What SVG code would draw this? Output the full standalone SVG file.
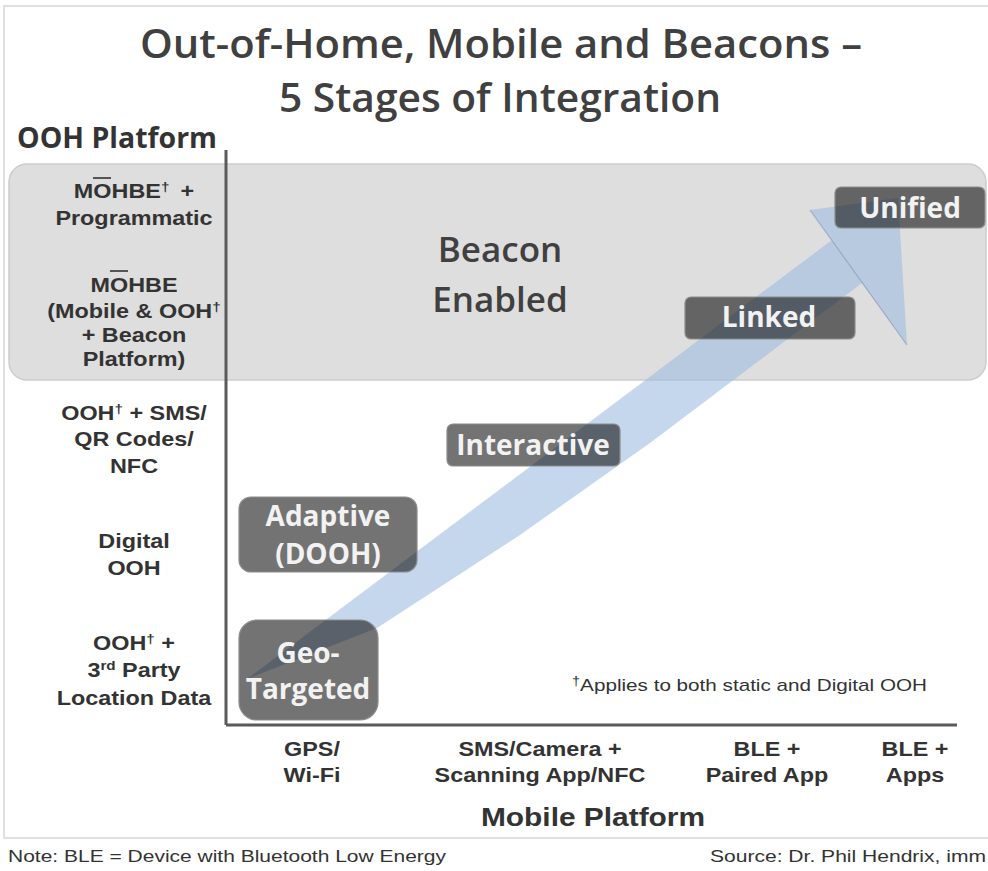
<svg xmlns="http://www.w3.org/2000/svg" width="988" height="871" viewBox="0 0 988 871">
<defs>
<style>
.title{font-family:"Open Sans","Liberation Sans",sans-serif;font-weight:600;fill:#404040;}
.lbl{font-family:"Liberation Sans",Arial,sans-serif;font-weight:bold;font-size:20px;fill:#333;text-anchor:middle;}
.box{fill:#000;fill-opacity:0.55;stroke:#8c8c8c;stroke-width:1.2;}
.bt{font-family:"Open Sans","Liberation Sans",sans-serif;font-weight:700;font-size:28px;fill:#f2f2f2;text-anchor:middle;}
.small{font-family:"Liberation Sans",Arial,sans-serif;font-size:17px;fill:#333;}
.axis{stroke:#5a5a5a;stroke-width:3;fill:none;}
</style>
</defs>
<rect width="988" height="871" fill="#fff"/>
<rect x="4" y="6" width="1000" height="832" fill="#fff" stroke="#e0e0e0" stroke-width="2"/>

<g id="titles">
<text class="title" x="140" y="58" font-size="40" textLength="722" lengthAdjust="spacingAndGlyphs">Out-of-Home, Mobile and Beacons –</text>
<text class="title" x="279" y="112" font-size="40" textLength="442" lengthAdjust="spacingAndGlyphs">5 Stages of Integration</text>
<text class="title" x="17" y="148" font-size="29" textLength="200" lengthAdjust="spacingAndGlyphs" style="fill:#333;font-weight:700">OOH Platform</text>
</g>

<rect id="beacon-band" x="9" y="164" width="977" height="216" rx="18" fill="#dedede" stroke="#cdcdcd" stroke-width="1.5"/>

<g id="axes">
<line class="axis" x1="226" y1="150" x2="226" y2="725"/>
<line class="axis" x1="226" y1="725" x2="957" y2="725"/>
</g>

<g id="connectors">
<polygon points="247,679 832,240 810,210 898,198 907,345 862,283 760,360 650,443 520,535 377,628" fill="#9fbde0" fill-opacity="0.6"/>
<line x1="810" y1="210" x2="907" y2="345" stroke="#8da4bd" stroke-width="1.2" stroke-opacity="0.8"/>
</g>

<g id="beacon-enabled">
<text class="title" x="500" y="262" font-size="35" text-anchor="middle">Beacon</text>
<text class="title" x="500" y="312" font-size="35" text-anchor="middle">Enabled</text>
</g>

<g id="node-geo">
<rect class="box" x="239" y="620" width="139" height="100" rx="18"/>
<text class="bt" x="308" y="663">Geo-</text>
<text class="bt" x="308" y="699">Targeted</text>
</g>
<g id="node-adaptive">
<rect class="box" x="239" y="497" width="178" height="75" rx="12"/>
<text class="bt" x="328" y="526">Adaptive</text>
<text class="bt" x="328" y="564">(DOOH)</text>
</g>
<g id="node-interactive">
<rect class="box" x="447" y="424" width="173" height="42" rx="6"/>
<text class="bt" x="533" y="455">Interactive</text>
</g>
<g id="node-linked">
<rect class="box" x="685" y="297" width="170" height="42" rx="6"/>
<text class="bt" x="769" y="327">Linked</text>
</g>
<g id="node-unified">
<rect class="box" x="835" y="187" width="150" height="41" rx="6"/>
<text class="bt" x="910" y="218">Unified</text>
</g>

<g id="ooh-labels" transform="translate(134,0) scale(1.17,1)">
<text class="lbl" x="0" y="198">MOHBE<tspan font-size="13" dy="-7">†</tspan><tspan dy="7" dx="4"> +</tspan></text>
<text class="lbl" x="0" y="225">Programmatic</text>
<text class="lbl" x="0" y="292">MOHBE</text>
<text class="lbl" x="0" y="318">(Mobile &amp; OOH<tspan font-size="13" dy="-7">†</tspan></text>
<text class="lbl" x="0" y="342">+ Beacon</text>
<text class="lbl" x="0" y="366">Platform)</text>
<text class="lbl" x="0" y="420">OOH<tspan font-size="13" dy="-7">†</tspan><tspan dy="7"> + SMS/</tspan></text>
<text class="lbl" x="0" y="446">QR Codes/</text>
<text class="lbl" x="0" y="473">NFC</text>
<text class="lbl" x="0" y="548">Digital</text>
<text class="lbl" x="0" y="575">OOH</text>
<text class="lbl" x="0" y="650">OOH<tspan font-size="13" dy="-7">†</tspan><tspan dy="7"> +</tspan></text>
<text class="lbl" x="0" y="677">3<tspan font-size="13" dy="-7">rd</tspan><tspan dy="7"> Party</tspan></text>
<text class="lbl" x="0" y="705">Location Data</text>
</g>
<g id="overlines" stroke="#333" stroke-width="1.6">
<line x1="93" y1="178" x2="111" y2="178"/>
<line x1="110" y1="271" x2="128" y2="271"/>
</g>

<g id="mobile-labels">
<g transform="translate(312,0) scale(1.17,1)"><text class="lbl" x="0" y="756">GPS/</text><text class="lbl" x="0" y="782">Wi-Fi</text></g>
<g transform="translate(540,0) scale(1.17,1)"><text class="lbl" x="0" y="756">SMS/Camera +</text><text class="lbl" x="0" y="782">Scanning App/NFC</text></g>
<g transform="translate(767,0) scale(1.17,1)"><text class="lbl" x="0" y="756">BLE +</text><text class="lbl" x="0" y="782">Paired App</text></g>
<g transform="translate(915,0) scale(1.17,1)"><text class="lbl" x="0" y="756">BLE +</text><text class="lbl" x="0" y="782">Apps</text></g>
<g transform="translate(593,0) scale(1.15,1)"><text class="lbl" x="0" y="826" style="font-size:26px">Mobile Platform</text></g>
</g>

<g id="notes">
<text class="small" x="572" y="691" textLength="355" lengthAdjust="spacingAndGlyphs"><tspan font-size="12" dy="-6">†</tspan><tspan dy="6">Applies to both static and Digital OOH</tspan></text>
<text class="small" x="8" y="862" textLength="438" lengthAdjust="spacingAndGlyphs">Note: BLE = Device with Bluetooth Low Energy</text>
<text class="small" x="710" y="862" textLength="276" lengthAdjust="spacingAndGlyphs">Source: Dr. Phil Hendrix, imm</text>
</g>
</svg>
